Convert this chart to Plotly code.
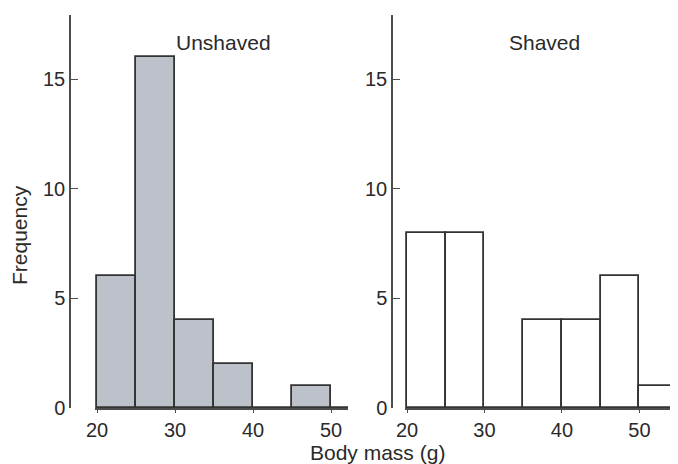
import plotly.graph_objects as go

# Data
bin_left = [20, 25, 30, 35, 40, 45, 50]
bin_width = 5
unshaved_counts = [6, 16, 4, 2, 0, 1, 0]
shaved_counts = [8, 8, 0, 4, 4, 6, 1]
x_ticks = [20, 30, 40, 50]
y_ticks = [0, 5, 10, 15]
panel_titles = ["Unshaved", "Shaved"]
x_label = "Body mass (g)"
y_label = "Frequency"

# page body has an 8px default margin; figure fills the rest of the 678x464 window
OFF = 8
W, H = 678 - OFF, 464 - OFF
FONT = "Liberation Sans, Arial, sans-serif"
TXT = "#2a2a2a"
AX = "#4d4d4d"
EDGE = "#333333"

def px(x):
    return (x - OFF) / W

def py(y):
    return 1 - (y - OFF) / H

centers = [b + bin_width / 2 for b in bin_left]

fig = go.Figure()
fig.add_trace(go.Bar(x=centers, y=unshaved_counts, width=bin_width,
                     marker=dict(color="#bdc1c9", line=dict(color=EDGE, width=1.8)),
                     xaxis="x", yaxis="y", showlegend=False))
fig.add_trace(go.Bar(x=centers, y=shaved_counts, width=bin_width,
                     marker=dict(color="white", line=dict(color=EDGE, width=1.8)),
                     xaxis="x2", yaxis="y2", showlegend=False))

ydom = [py(408), py(15)]
yrange = [0, 17.92]

common_x = dict(showline=True, linecolor=AX, linewidth=1.5, ticks="outside", ticklen=3,
                tickcolor=AX, tickvals=x_ticks, showgrid=False, zeroline=False,
                automargin=False,
                tickfont=dict(family=FONT, size=20, color=TXT))
common_y = dict(showline=True, linecolor=AX, linewidth=1.5, ticks="inside", ticklen=7,
                tickcolor=AX, tickvals=y_ticks, showgrid=False, zeroline=False,
                range=yrange, domain=ydom, anchor="free", automargin=False,
                tickfont=dict(family=FONT, size=20, color=TXT))

def label(text, x, y, angle=0):
    return dict(text=text, x=px(x), y=py(y), xref="paper", yref="paper",
                xanchor="center", yanchor="middle", textangle=angle,
                showarrow=False, font=dict(family=FONT, size=21, color=TXT))

fig.update_layout(
    width=W, height=H,
    margin=dict(l=0, r=0, t=0, b=0, autoexpand=False),
    paper_bgcolor="white", plot_bgcolor="rgba(0,0,0,0)",
    bargap=0,
    xaxis=dict(domain=[px(95), px(348)], range=[19.74, 52.18], anchor="y", **common_x),
    xaxis2=dict(domain=[px(405), 1.0], range=[19.74, 54.98], anchor="y2", **common_x),
    yaxis=dict(position=px(70), **common_y),
    yaxis2=dict(position=px(392), **common_y),
    annotations=[
        label(panel_titles[0], 223, 42),
        label(panel_titles[1], 544, 42),
        label(x_label, 377, 452),
        label(y_label, 20, 235, -90),
    ],
)

fig.write_html("out.html")
